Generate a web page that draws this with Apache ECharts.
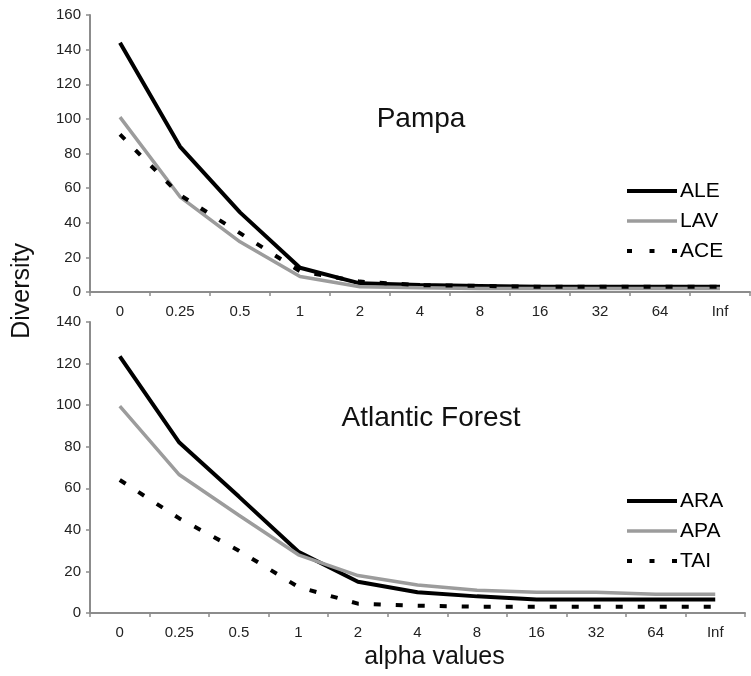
<!DOCTYPE html>
<html><head><meta charset="utf-8">
<script src="https://cdn.jsdelivr.net/npm/echarts@6/dist/echarts.min.js"></script>
<style>html,body{margin:0;padding:0;background:#fff}#c{width:751px;height:676px}</style>
</head><body><div id="c"></div>
<script>
const alphaLabels = ['0','0.25','0.5','1','2','4','8','16','32','64','Inf'];
const ALE = [144, 84, 46, 14, 5, 4, 3.5, 3, 3, 3, 3];
const LAV = [101, 55, 29, 9, 3, 2.5, 2, 2, 2, 2, 2];
const ACE = [91, 56, 34, 12, 6, 4, 3.5, 3, 3, 3, 3];
const ARA = [123.5, 82, 56, 29.5, 15, 10, 8, 6.5, 6.5, 6.5, 6.5];
const APA = [99.5, 66.5, 47, 28, 18, 13.5, 11, 10, 10, 9, 9];
const TAI = [64, 45.5, 30, 12.5, 4.5, 3.5, 3, 3, 3, 3, 3];

const font = 'Liberation Sans, Arial, sans-serif';
const axisLine = {show:true, lineStyle:{color:'#8c8c8c', width:2}};
function xAxis(gi){
  return {type:'category', gridIndex:gi, data:alphaLabels, boundaryGap:true,
    axisLine:axisLine, axisTick:{show:true, length:4, lineStyle:{color:'#8c8c8c', width:1.5}},
    axisLabel:{color:'#222', fontSize:15, fontFamily:font, margin:12}, splitLine:{show:false}};
}
function yAxis(gi, max){
  return {type:'value', gridIndex:gi, min:0, max:max, interval:20,
    axisLine:axisLine, axisTick:{show:true, length:4, lineStyle:{color:'#8c8c8c', width:1.5}},
    axisLabel:{color:'#222', fontSize:15, fontFamily:font, margin:9}, splitLine:{show:false}};
}
function solid(name, data, gi, color, w){
  return {name:name, type:'line', xAxisIndex:gi, yAxisIndex:gi, data:data, symbol:'none',
    lineStyle:{color:color, width:w}, itemStyle:{color:color}, animation:false};
}
function dotted(name, data, gi){
  return {name:name, type:'line', xAxisIndex:gi, yAxisIndex:gi, data:data, symbol:'none',
    lineStyle:{color:'#000', width:4, type:[7,15], cap:'butt'}, itemStyle:{color:'#000'}, animation:false};
}
function legendItems(names, styles){
  return names.map((n,i)=>({name:n, lineStyle:styles[i]}));
}
const legendCommon = {orient:'vertical', left:625, padding:0, itemWidth:50, itemHeight:16, itemGap:8,
  itemStyle:{opacity:0, borderWidth:0},
  textStyle:{fontSize:21, lineHeight:22, fontFamily:font, color:'#000', padding:[0,0,0,-2]}};
const legStyles = [{width:4, color:'#000'}, {width:3.5, color:'#9c9c9c'}, {width:4, color:'#000', type:[5,17.5]}];

const chart = echarts.init(document.getElementById('c'), null, {renderer:'canvas'});
chart.setOption({
  backgroundColor:'#fff',
  animation:false,
  title:[
    {text:'Pampa', left:416, top:100, textAlign:'center', textStyle:{fontSize:28, fontWeight:'normal', color:'#111', fontFamily:font}},
    {text:'Atlantic Forest', left:426, top:399, textAlign:'center', textStyle:{fontSize:28, fontWeight:'normal', color:'#111', fontFamily:font}}
  ],
  grid:[
    {left:90, top:15, width:660, height:277},
    {left:90, top:322, width:655, height:291}
  ],
  xAxis:[xAxis(0), Object.assign(xAxis(1), {name:'alpha values', nameLocation:'middle', nameGap:32,
    nameTextStyle:{fontSize:25, color:'#111', fontFamily:font, padding:[0,0,0,34]}})],
  yAxis:[yAxis(0,160), yAxis(1,140)],
  legend:[
    Object.assign({}, legendCommon, {top:180, data:legendItems(['ALE','LAV','ACE'], legStyles)}),
    Object.assign({}, legendCommon, {top:490, data:legendItems(['ARA','APA','TAI'], legStyles)})
  ],
  graphic:[{type:'text', left:10, top:243, rotation:Math.PI/2,
    style:{text:'Diversity', fontSize:25, fontFamily:font, fill:'#111'}}],
  series:[
    solid('ALE', ALE, 0, '#000', 4),
    solid('LAV', LAV, 0, '#9c9c9c', 3.5),
    dotted('ACE', ACE, 0),
    solid('ARA', ARA, 1, '#000', 4),
    solid('APA', APA, 1, '#9c9c9c', 3.5),
    dotted('TAI', TAI, 1)
  ]
});
</script></body></html>
